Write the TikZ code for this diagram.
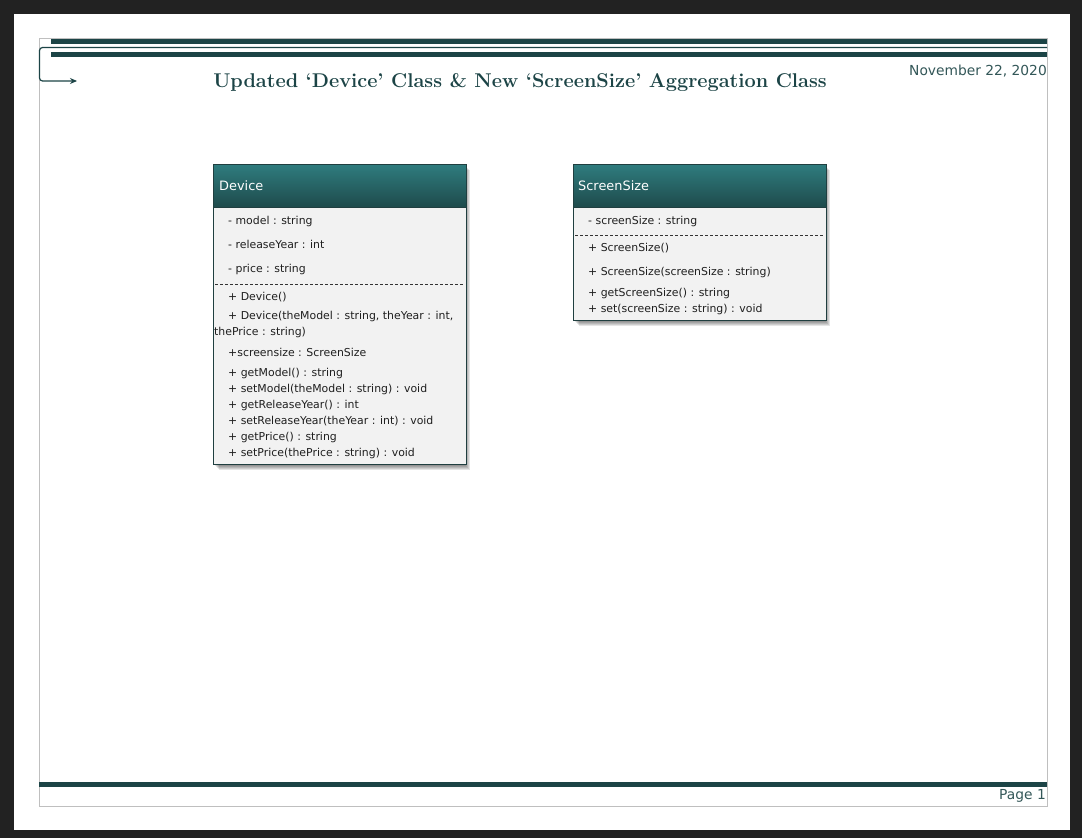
\documentclass[tikz,border=0pt]{standalone}
\usepackage{fontspec}
\setsansfont{DejaVu Sans}
\usetikzlibrary{arrows.meta}

\definecolor{docteal}{HTML}{1C4446}
\definecolor{headtop}{HTML}{2F7C7E}
\definecolor{headbot}{HTML}{1E4A4B}
\definecolor{bodygray}{HTML}{F2F2F2}
\definecolor{framedark}{HTML}{203F40}
\definecolor{pagedark}{HTML}{222222}

\tikzset{
  classhead/.style={draw=framedark, line width=1.1pt, top color=headtop, bottom color=headbot,
    anchor=north west, minimum width=253pt, minimum height=43pt, inner sep=0pt},
  classbody/.style={draw=framedark, line width=1.1pt, fill=bodygray,
    anchor=north west, minimum width=253pt, inner sep=0pt},
  classname/.style={anchor=base west, inner sep=0pt, text=white, font=\sffamily\fontsize{12.9}{15}\selectfont},
  member/.style={anchor=base west, inner sep=0pt, text=black!88, font=\sffamily\fontsize{10.9}{13}\selectfont},
  sep/.style={densely dashed, line width=0.6pt, black!80},
  softshadow/.style={fill=black, opacity=0.1},
  pagetext/.style={inner sep=0pt, text=docteal!90, font=\sffamily\fontsize{13.8}{16}\selectfont}
}

\begin{document}
\begin{tikzpicture}[x=1pt,y=-1pt]
% Sayfa
\fill[pagedark] (0,0) rectangle (1082,838);
\fill[white] (14,14) rectangle (1070,830);
\draw[black!25, line width=0.8pt] (39,38) rectangle (1047,806);
\useasboundingbox (0,0) rectangle (1082,838);

% Üst şeritler
\fill[docteal] (51,38.5) rectangle (1047,43.5);
\fill[docteal] (51,52.3) rectangle (1047,57);
\coordinate (rule end) at (1047,47.5);
\coordinate (rule corner) at (39.5,47.5);
\coordinate (arrow tip) at (77,81);
\draw[docteal, line width=1.2pt, rounded corners=3pt, -{Stealth[length=7pt,width=6pt]}]
  (rule end) -- (rule corner) |- (arrow tip);

% Başlık ve tarih
\node[text=docteal, font=\bfseries\fontsize{19.9}{22}\selectfont] (title) at (520,82)
  {Updated ‘Device’ Class \& New ‘ScreenSize’ Aggregation Class};
\node[pagetext, anchor=east] (date) at (1047,71) {November 22, 2020};

% Alt şerit
\fill[docteal] (39,782) rectangle (1047,787);
\node[pagetext, anchor=east] (page) at (1046,796) {Page 1};

% Gölgeler
\foreach \d in {1,...,6} {
  \fill[softshadow] (213+\d,164+\d) rectangle (466+\d-2,464+\d);
  \fill[softshadow] (573+\d,164+\d) rectangle (826+\d-2,320+\d);
}

% Device sınıfı
\node[classbody, minimum height=257pt] (device body) at (213,207) {};
\node[classhead] (device head) at (213,164) {};
\node[classname] (device name) at (219,190) {Device};
\node[member] (m1) at (228,224) {- model : string};
\node[member] (m2) at (228,248) {- releaseYear : int};
\node[member] (m3) at (228,272) {- price : string};
\draw[sep] (215,284) -- (464,284);
\node[member] (d1) at (228,300) {+ Device()};
\node[member] (d2) at (228,319) {+ Device(theModel : string, theYear : int,};
\node[member] (d3) at (214,335) {thePrice : string)};
\node[member] (d4) at (228,356) {+screensize : ScreenSize};
\node[member] (d5) at (228,376) {+ getModel() : string};
\node[member] (d6) at (228,392) {+ setModel(theModel : string) : void};
\node[member] (d7) at (228,408) {+ getReleaseYear() : int};
\node[member] (d8) at (228,424) {+ setReleaseYear(theYear : int) : void};
\node[member] (d9) at (228,440) {+ getPrice() : string};
\node[member] (d10) at (228,456) {+ setPrice(thePrice : string) : void};

% ScreenSize sınıfı
\node[classbody, minimum height=113pt] (size body) at (573,207) {};
\node[classhead] (size head) at (573,164) {};
\node[classname] (size name) at (578,190) {ScreenSize};
\node[member] (s1) at (588,224) {- screenSize : string};
\draw[sep] (575,235) -- (824,235);
\node[member] (t1) at (588,251) {+ ScreenSize()};
\node[member] (t2) at (588,275) {+ ScreenSize(screenSize : string)};
\node[member] (t3) at (588,296) {+ getScreenSize() : string};
\node[member] (t4) at (588,312) {+ set(screenSize : string) : void};
\end{tikzpicture}
\end{document}
